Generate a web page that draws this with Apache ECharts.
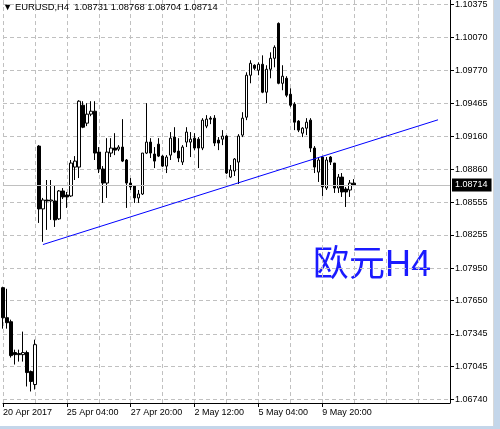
<!DOCTYPE html>
<html>
<head>
<meta charset="utf-8">
<script src="https://cdn.jsdelivr.net/npm/echarts@6/dist/echarts.min.js"></script>
<style>
  html, body { margin: 0; padding: 0; background: #fff; }
  #chart { width: 500px; height: 429px; }
</style>
</head>
<body>
<div id="chart"></div>
<script>
// H4 bars, 20 Apr 2017 12:00 .. 11 May 2017 04:00
const symbol = 'EURUSD,H4'
const tradingDays = ['2017.04.20', '2017.04.21', '2017.04.24', '2017.04.25', '2017.04.26', '2017.04.27', '2017.04.28',
  '2017.05.01', '2017.05.02', '2017.05.03', '2017.05.04', '2017.05.05', '2017.05.08', '2017.05.09', '2017.05.10',
  '2017.05.11', '2017.05.12', '2017.05.15', '2017.05.16', '2017.05.17']
const barHours = ['00:00', '04:00', '08:00', '12:00', '16:00', '20:00']

const opens = [1.07769, 1.07493, 1.07456, 1.07172, 1.07163, 1.07153, 1.07172, 1.06997, 1.06878,
  1.09072, 1.08494, 1.08576, 1.08567, 1.08567, 1.08402, 1.08659, 1.08622, 1.08613, 1.08879,
  1.08879, 1.09448, 1.09283, 1.09366, 1.09393, 1.09017, 1.08861, 1.08732, 1.09008, 1.09054,
  1.09044, 1.09063, 1.08944, 1.08732, 1.08705, 1.08595, 1.08631, 1.09008, 1.09109, 1.08999,
  1.09090, 1.08980, 1.08888, 1.08989, 1.09155, 1.09026, 1.08925, 1.09109, 1.09109, 1.09145,
  1.09136, 1.09054, 1.09256, 1.09329, 1.09329, 1.09127, 1.09136, 1.09164, 1.08787, 1.08843,
  1.08925, 1.09173, 1.09338, 1.09724, 1.09816, 1.09770, 1.09825, 1.09568, 1.09779, 1.09880,
  1.10201, 1.09650, 1.09696, 1.09549, 1.09458, 1.09302, 1.09191, 1.09237, 1.09311, 1.09054,
  1.08833, 1.08971, 1.08686, 1.08971, 1.08916, 1.08686, 1.08787, 1.08677, 1.08668, 1.08731]
const highs = [1.07778, 1.07759, 1.07475, 1.07199, 1.07199, 1.07365, 1.07190, 1.07007, 1.07291,
  1.09081, 1.08595, 1.08760, 1.08760, 1.08705, 1.08668, 1.08686, 1.08650, 1.08944, 1.08980,
  1.09494, 1.09485, 1.09467, 1.09485, 1.09485, 1.09063, 1.08888, 1.09145, 1.09145, 1.09191,
  1.09081, 1.09320, 1.08953, 1.08778, 1.08705, 1.08668, 1.09008, 1.09467, 1.09145, 1.09063,
  1.09145, 1.08989, 1.08989, 1.09201, 1.09246, 1.09145, 1.09081, 1.09246, 1.09201, 1.09191,
  1.09155, 1.09329, 1.09357, 1.09347, 1.09357, 1.09155, 1.09219, 1.09173, 1.08898, 1.08962,
  1.09182, 1.09384, 1.09751, 1.09862, 1.09825, 1.09843, 1.09907, 1.09816, 1.09935, 1.09999,
  1.10210, 1.09816, 1.09715, 1.09604, 1.09476, 1.09311, 1.09246, 1.09329, 1.09329, 1.09072,
  1.08971, 1.08980, 1.08971, 1.08980, 1.08916, 1.08815, 1.08824, 1.08696, 1.08760, 1.08768]
const lows = [1.07392, 1.07392, 1.07126, 1.07062, 1.07089, 1.07089, 1.06860, 1.06814, 1.06832,
  1.08365, 1.08191, 1.08301, 1.08393, 1.08328, 1.08393, 1.08585, 1.08503, 1.08604, 1.08760,
  1.08778, 1.09237, 1.09256, 1.09347, 1.08944, 1.08824, 1.08549, 1.08595, 1.08971, 1.08989,
  1.09026, 1.08925, 1.08503, 1.08668, 1.08549, 1.08549, 1.08622, 1.08999, 1.08962, 1.08870,
  1.08971, 1.08879, 1.08824, 1.08944, 1.09008, 1.08925, 1.08898, 1.09063, 1.08971, 1.09035,
  1.08870, 1.09035, 1.09237, 1.09274, 1.09072, 1.09035, 1.09081, 1.08815, 1.08778, 1.08797,
  1.08723, 1.09155, 1.09311, 1.09650, 1.09770, 1.09724, 1.09559, 1.09467, 1.09696, 1.09797,
  1.09641, 1.09586, 1.09522, 1.09430, 1.09219, 1.09201, 1.09155, 1.09173, 1.09017, 1.08824,
  1.08742, 1.08613, 1.08668, 1.08898, 1.08641, 1.08641, 1.08604, 1.08512, 1.08604, 1.08704]
const closes = [1.07493, 1.07447, 1.07144, 1.07153, 1.07153, 1.07172, 1.06988, 1.06906, 1.07245,
  1.08494, 1.08576, 1.08567, 1.08576, 1.08393, 1.08659, 1.08604, 1.08604, 1.08916, 1.08934,
  1.09485, 1.09246, 1.09366, 1.09393, 1.09008, 1.08861, 1.08732, 1.09017, 1.09054, 1.09035,
  1.09063, 1.08934, 1.08732, 1.08696, 1.08595, 1.08631, 1.09008, 1.09109, 1.09008, 1.08934,
  1.08980, 1.08888, 1.08971, 1.09145, 1.09017, 1.08962, 1.09063, 1.09201, 1.09136, 1.09054,
  1.09054, 1.09311, 1.09320, 1.09320, 1.09100, 1.09100, 1.09164, 1.08824, 1.08852, 1.08953,
  1.09164, 1.09329, 1.09724, 1.09834, 1.09788, 1.09825, 1.09568, 1.09779, 1.09880, 1.09981,
  1.09650, 1.09715, 1.09540, 1.09448, 1.09292, 1.09219, 1.09237, 1.09292, 1.09054, 1.08879,
  1.08944, 1.08696, 1.08944, 1.08925, 1.08686, 1.08787, 1.08650, 1.08650, 1.08732, 1.08714]

const yTicks = [1.10375, 1.10070, 1.09770, 1.09465, 1.09160, 1.08860, 1.08555, 1.08255,
  1.07950, 1.07650, 1.07345, 1.07045, 1.06740]
const xTickTimes = ['2017.04.20 12:00', '2017.04.25 04:00', '2017.04.27 20:00',
  '2017.05.02 12:00', '2017.05.05 04:00', '2017.05.09 20:00']
const xTickText = ['20 Apr 2017', '25 Apr 04:00', '27 Apr 20:00', '2 May 12:00', '5 May 04:00', '9 May 20:00']

// trend line drawn on the chart
const trendTimes = ['2017.04.24 04:00', '2017.05.16 16:00']
const trendPrices = [1.08166, 1.09314]
const noteText = '欧元H4'

// bar slots (includes empty future slots on the right, like the terminal's chart shift)
const times = tradingDays.flatMap((d) => barHours.map((h) => d + ' ' + h)).slice(3, 3 + 113)
const candles = opens.map((o, i) => [o, closes[i], lows[i], highs[i]])
const last = opens.length - 1
const header = '▼ ' + symbol + '  ' +
  [opens[last], highs[last], lows[last], closes[last]].map((v) => v.toFixed(5)).join(' ')

const font = "'Liberation Sans', Arial, sans-serif"
const gridLine = { color: '#c0c0c0', width: 1, type: [4, 3] }

const chart = echarts.init(document.getElementById('chart'), null, { renderer: 'canvas' })

chart.setOption({
  animation: false,
  backgroundColor: '#ffffff',
  title: {
    text: header,
    left: 3,
    top: 3,
    padding: 0,
    textStyle: { fontFamily: font, fontSize: 9.4, fontWeight: 'normal', color: '#000' },
  },
  grid: { left: 1, right: 50, top: 0, bottom: 26 },
  xAxis: {
    type: 'category',
    data: times,
    boundaryGap: false,
    axisLine: { lineStyle: { color: '#000', width: 1 } },
    axisTick: {
      length: 4,
      lineStyle: { color: '#000' },
      interval: (i, v) => xTickTimes.includes(v),
    },
    axisLabel: {
      interval: (i, v) => xTickTimes.includes(v),
      formatter: (v) => xTickText[xTickTimes.indexOf(v)],
      align: 'left',
      margin: 5,
      fontFamily: font,
      fontSize: 9,
      color: '#000',
    },
    splitLine: { show: true, interval: 7, lineStyle: gridLine },
  },
  yAxis: {
    type: 'value',
    position: 'right',
    scale: true,
    min: 1.06708,
    max: 1.10416,
    axisLine: { show: true, lineStyle: { color: '#000', width: 1 } },
    axisTick: { show: true, length: 4, customValues: yTicks, lineStyle: { color: '#000' } },
    axisLabel: {
      customValues: yTicks,
      formatter: (v) => v.toFixed(5),
      margin: 5,
      fontFamily: font,
      fontSize: 9,
      color: '#000',
    },
    splitLine: { show: true, lineStyle: gridLine },
  },
  series: [
    {
      name: symbol,
      type: 'candlestick',
      data: candles,
      barWidth: 3,
      clip: false,
      itemStyle: {
        color: '#ffffff',
        color0: '#000000',
        borderColor: '#000000',
        borderColor0: '#000000',
        borderColorDoji: '#000000',
        borderWidth: 1,
      },
      markLine: {
        silent: true,
        symbol: 'none',
        precision: 5,
        animation: false,
        data: [
          {
            yAxis: closes[last],
            lineStyle: { color: '#c0c0c0', width: 1, type: 'solid' },
            label: {
              show: true,
              position: 'end',
              distance: 2,
              formatter: () => closes[last].toFixed(5),
              backgroundColor: '#000',
              color: '#fff',
              padding: [2, 4, 2, 3],
              fontFamily: font,
              fontSize: 9,
            },
          },
          [
            {
              coord: [trendTimes[0], trendPrices[0]],
              lineStyle: { color: '#0000ff', width: 1, type: 'solid' },
              label: { show: false },
            },
            { coord: [trendTimes[1], trendPrices[1]] },
          ],
        ],
      },
    },
  ],
  graphic: [
    {
      type: 'text',
      left: 313,
      top: 248,
      style: {
        text: noteText,
        fill: '#1a1aff',
        font: "36px 'Liberation Sans', 'Noto Sans CJK SC', sans-serif",
      },
    },
    { type: 'rect', left: 494, top: 0, shape: { width: 6, height: 429 }, style: { fill: '#c4d6ea' } },
    { type: 'rect', left: 0, top: 426, shape: { width: 500, height: 3 }, style: { fill: '#c4d6ea' } },
    { type: 'line', shape: { x1: 493.5, y1: 0, x2: 493.5, y2: 426 }, style: { stroke: '#d8d8d8' } },
  ],
})

window.addEventListener('resize', () => chart.resize())
</script>
</body>
</html>
